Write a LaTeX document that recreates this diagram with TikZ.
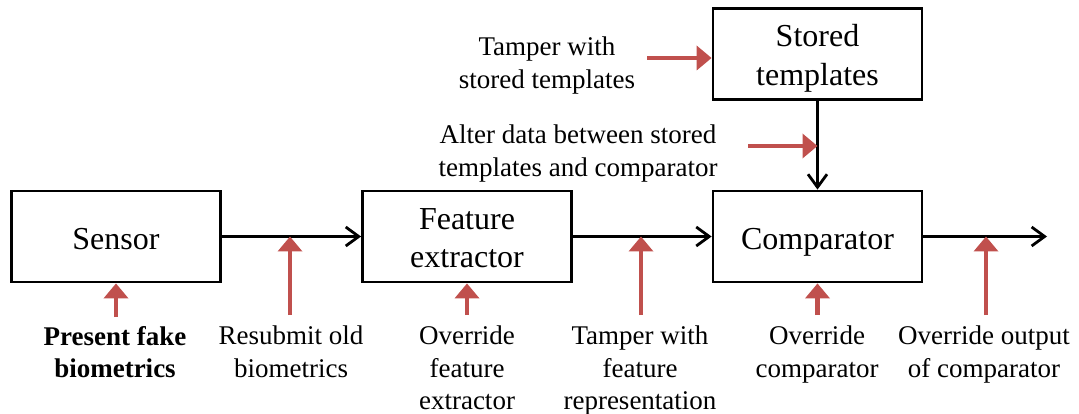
\documentclass[tikz,border=0pt]{standalone}
\usepackage{fontspec}
\setmainfont{Liberation Serif}
\usetikzlibrary{arrows.meta}
\definecolor{attackred}{RGB}{192,80,77}
\begin{document}
\begin{tikzpicture}[x=1pt,y=-1pt,
  block/.style={draw=black,line width=2.8pt,minimum width=209pt,minimum height=91pt,
    align=center,inner sep=0pt,font=\fontsize{32}{39}\selectfont},
  oneline/.style={text height=25pt,text depth=0pt},
  twoline/.style={text height=63pt,text depth=0pt},
  flow/.style={draw=black,line width=2.8pt,-{Straight Barb[length=13pt,width=19pt]}},
  attack/.style={draw=attackred,line width=4.5pt,-{Triangle[length=15pt,width=24pt]}},
  lbl/.style={align=center,inner sep=0pt,font=\fontsize{27}{32.5}\selectfont}]
\useasboundingbox (0,0) rectangle (1079,414);

% processing blocks
\node[block,oneline] (sensor) at (116,236.5) {Sensor};
\node[block,twoline] (feat)   at (467,236.5) {Feature\\extractor};
\node[block,oneline] (comp)   at (817.5,236.5) {Comparator};
\node[block,twoline] (store)  at (817.5,54) {Stored\\templates};

% data flow
\coordinate (out) at (1047,236.5);
\draw[flow] (sensor.east) -- (feat.west);
\draw[flow] (feat.east) -- (comp.west);
\draw[flow] (store.south) -- (comp.north);
\draw[flow] (comp.east) -- (out);

% attack points
\coordinate (aStore) at (647,58);
\coordinate (aLink)  at (748,146);
\coordinate (aSens)  at (116,317);
\coordinate (aResub) at (290,315);
\coordinate (aFeat)  at (467,315);
\coordinate (aRep)   at (641,315);
\coordinate (aComp)  at (817.5,315);
\coordinate (aOut)   at (986,315);

\draw[attack] (aStore) -- (aStore -| store.west);
\draw[attack] (aLink) -- (aLink -| store.south);
\draw[attack] (aSens) -- (sensor.south);
\draw[attack] (aResub) -- (aResub |- sensor.east);
\draw[attack] (aFeat) -- (feat.south);
\draw[attack] (aRep) -- (aRep |- feat.east);
\draw[attack] (aComp) -- (comp.south);
\draw[attack] (aOut) -- (aOut |- comp.east);

% attack labels
\node[lbl,anchor=north] (tStore) at (547,37) {Tamper with\\stored templates};
\node[lbl,anchor=north] (tLink)  at (578,125) {Alter data between stored\\templates and comparator};
\node[lbl,anchor=north,font=\fontsize{27}{32.5}\selectfont\bfseries] (tSens) at (115,326) {Present fake\\biometrics};
\node[lbl,anchor=north] (tResub) at (291,326) {Resubmit old\\biometrics};
\node[lbl,anchor=north] (tFeat)  at (467,326) {Override\\feature\\extractor};
\node[lbl,anchor=north] (tRep)   at (640,326) {Tamper with\\feature\\representation};
\node[lbl,anchor=north] (tComp)  at (817,326) {Override\\comparator};
\node[lbl,anchor=north] (tOut)   at (984,326) {Override output\\of comparator};
\end{tikzpicture}
\end{document}
